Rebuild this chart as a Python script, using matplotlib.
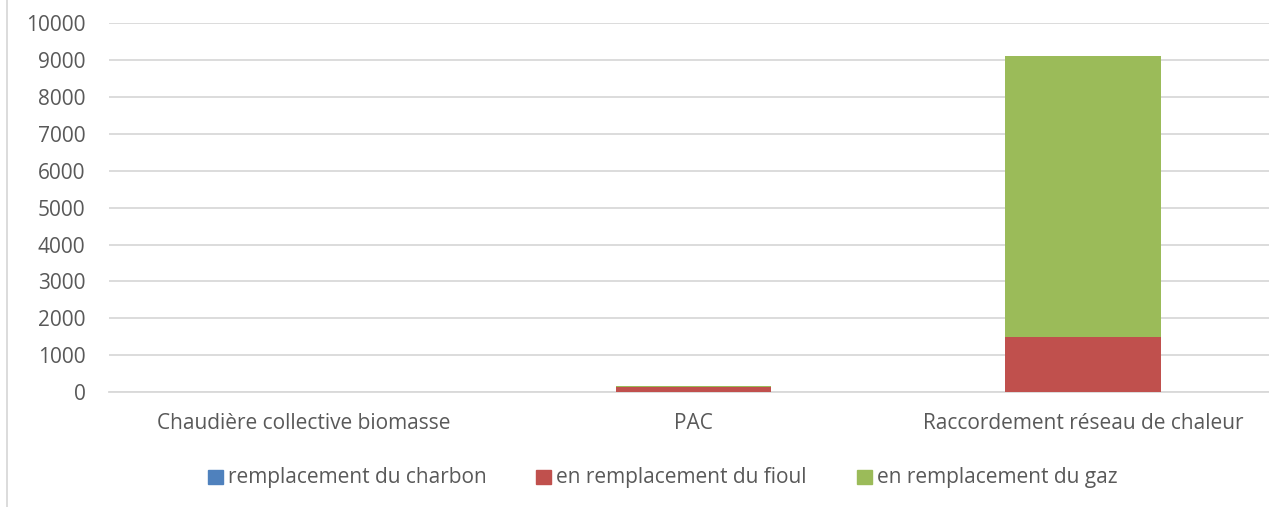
import numpy as np
import matplotlib.pyplot as plt
from matplotlib.lines import Line2D
from matplotlib.patches import Rectangle

categories = ["Chaudière collective biomasse", "PAC", "Raccordement réseau de chaleur"]
charbon = [0, 0, 0]
fioul = [0, 125, 1500]
gaz = [0, 40, 7620]
series_labels = ["remplacement du charbon", "en remplacement du fioul", "en remplacement du gaz"]
colors = ["#4F81BD", "#C0504D", "#9BBB59"]
yticks = list(range(0, 10001, 1000))

plt.rcParams["font.family"] = ["Open Sans", "DejaVu Sans"]
text_col = "#595959"
W, H = 1269, 507

fig = plt.figure(figsize=(W / 100, H / 100), dpi=100)
ax = fig.add_axes([109 / W, (H - 392) / H, 1169 / W, (392 - 23.3) / H])

x = np.arange(len(categories))
w = 0.40
charbon = np.array(charbon)
fioul = np.array(fioul)
gaz = np.array(gaz)
ax.bar(x, charbon, w, color=colors[0], label=series_labels[0], zorder=3)
ax.bar(x, fioul, w, bottom=charbon, color=colors[1], label=series_labels[1], zorder=3)
ax.bar(x, gaz, w, bottom=charbon + fioul, color=colors[2], label=series_labels[2], zorder=3)

ax.set_xlim(-0.5, len(categories) - 0.5)
ax.set_ylim(0, 10000)
ax.set_yticks(yticks)
ax.set_xticks(x)
ax.set_xticklabels(categories)
ax.yaxis.grid(True, color="#D9D9D9", linewidth=1.3, zorder=0)
ax.set_axisbelow(True)
for s in ["top", "right", "left"]:
    ax.spines[s].set_visible(False)
ax.spines["bottom"].set_color("#D9D9D9")
ax.spines["bottom"].set_linewidth(1.3)
ax.tick_params(axis="both", length=0, labelsize=15, colors=text_col)
ax.tick_params(axis="y", pad=17)
ax.tick_params(axis="x", pad=15)

# legend drawn by hand so the squares and labels sit where the reference has them
leg_x = [208, 536, 857]
for xs, c, lab in zip(leg_x, colors, series_labels):
    fig.add_artist(Rectangle((xs / W, 1 - 484 / H), 15 / W, 14 / H, color=c, transform=fig.transFigure))
    fig.text((xs + 20) / W, 1 - 477 / H, lab, fontsize=15, color=text_col,
             va="center", ha="left")

fig.add_artist(Line2D([7 / W, 7 / W], [0, 1], color="#D9D9D9", linewidth=1.3))

fig.savefig("out.png", dpi=100)
